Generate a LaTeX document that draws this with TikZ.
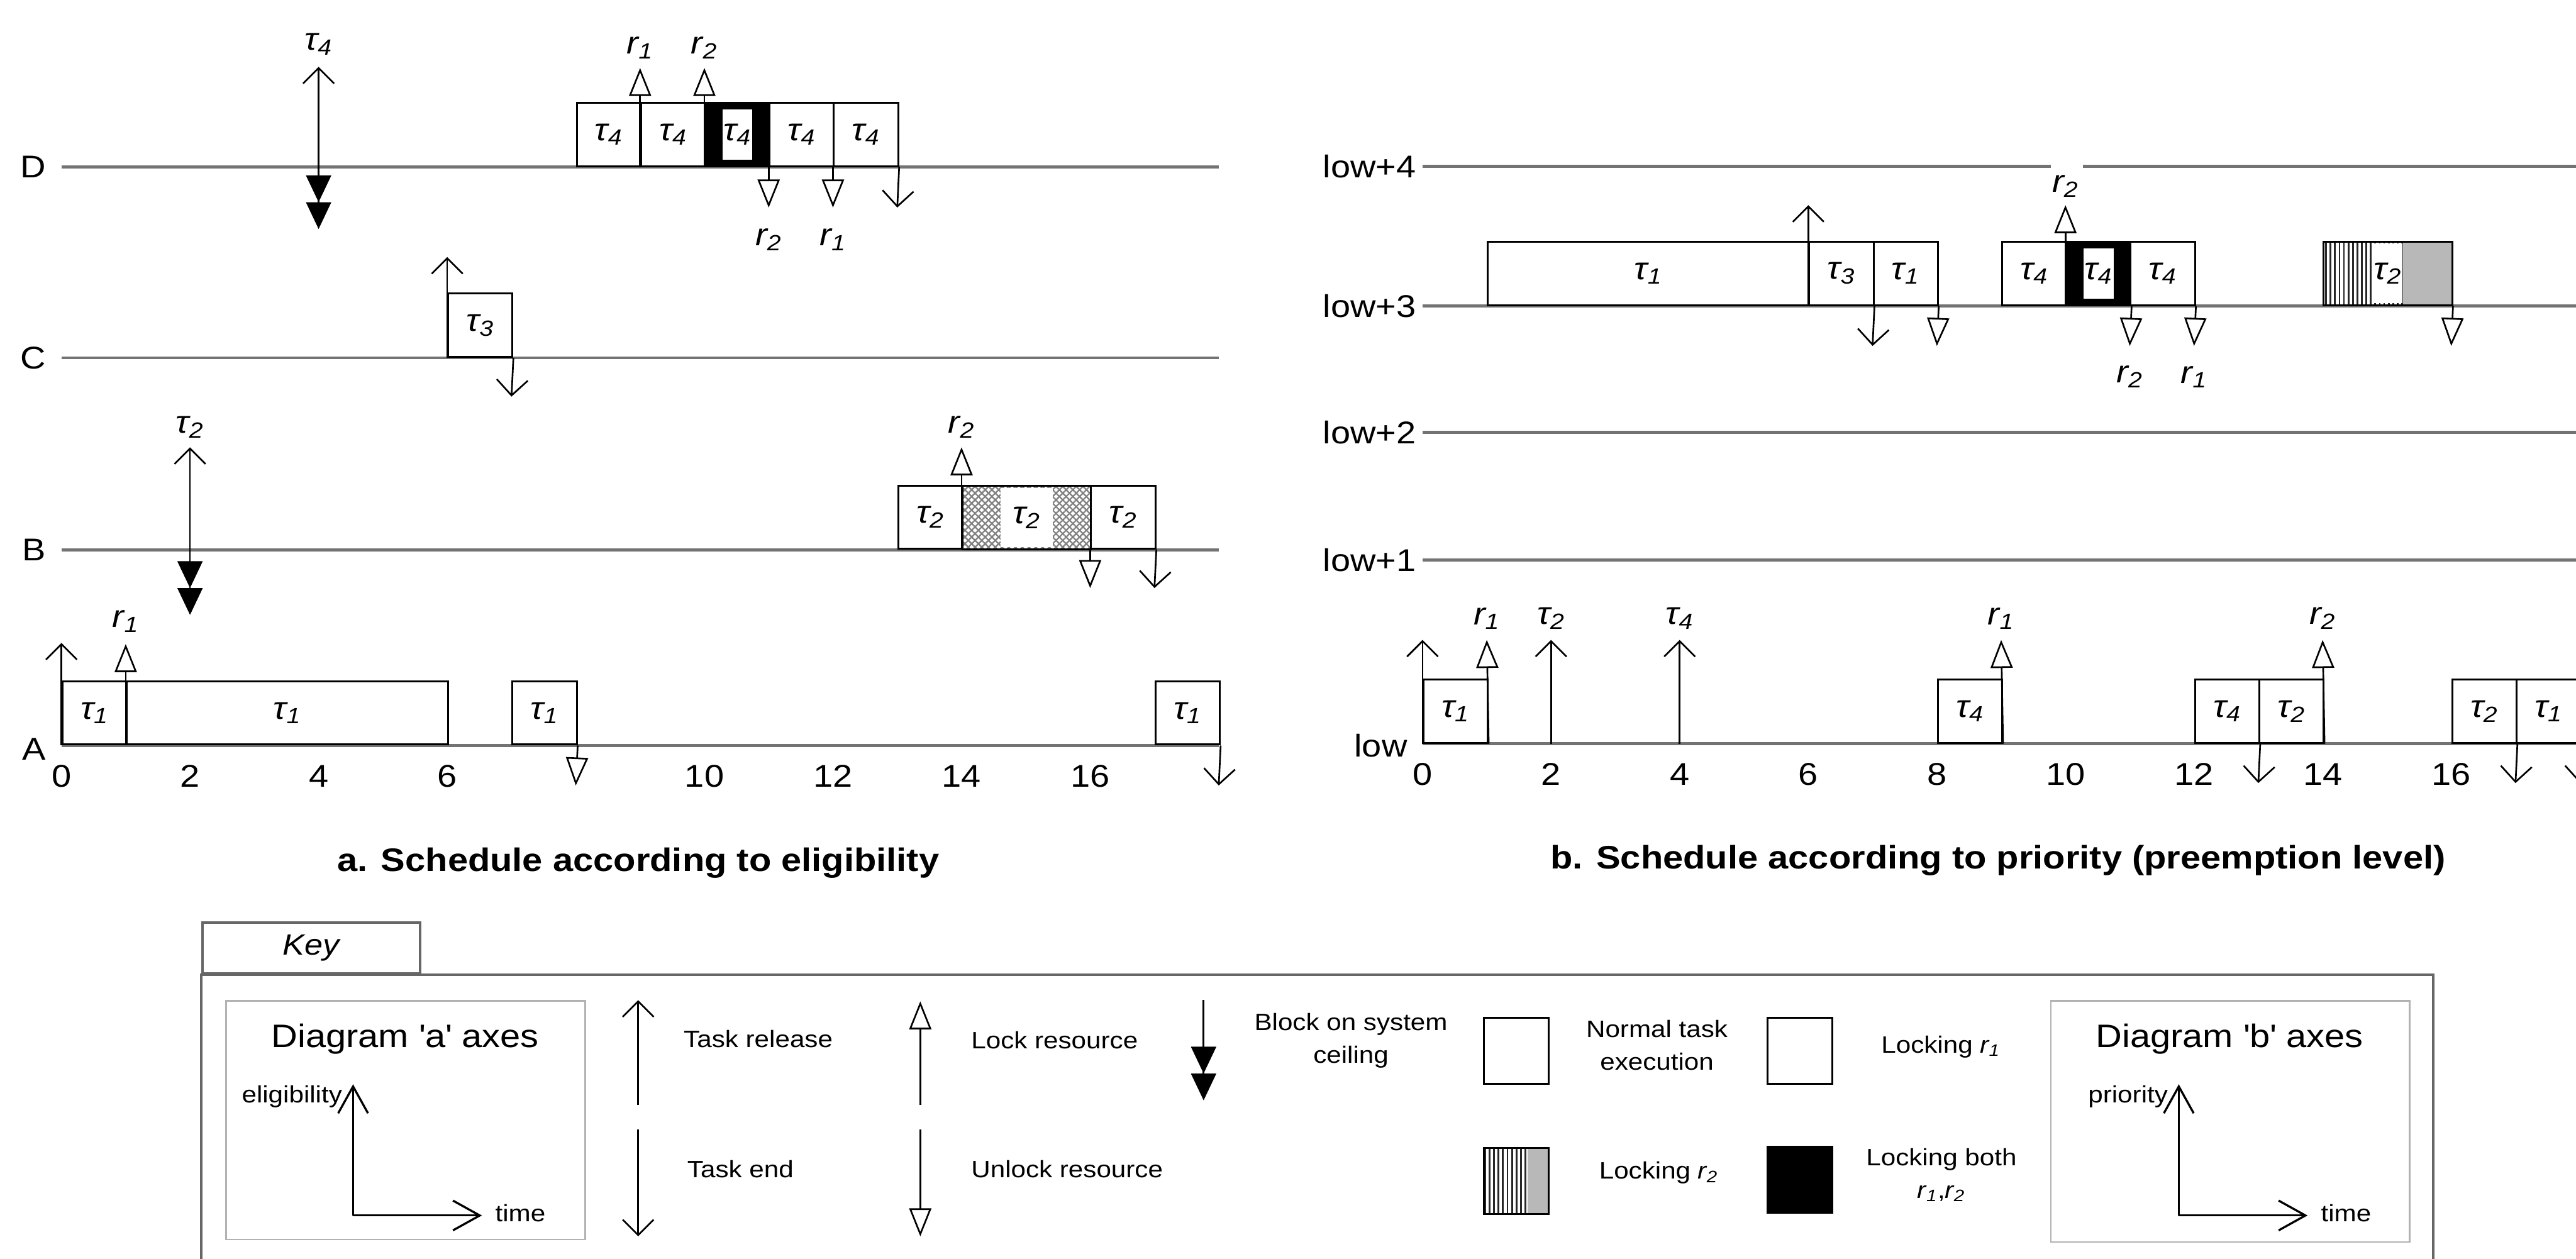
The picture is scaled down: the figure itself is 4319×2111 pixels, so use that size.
\documentclass[tikz,border=0pt]{standalone}
\usepackage{fontspec}
\setmainfont{Liberation Sans}[FakeStretch=1.12]
\usetikzlibrary{arrows.meta,patterns.meta}
\newcommand{\lanefont}{\fontsize{15}{18}\selectfont}
\newcommand{\tsk}[1]{\textit{τ\textsubscript{#1}}}
\newcommand{\rsc}[1]{\textit{r\textsubscript{#1}}}

\begin{document}
\begin{tikzpicture}[
  x=0.1mm, y=-0.1mm,
  lane/.style={draw=black!55, line width=1.3pt},
  llbl/.style={font=\lanefont, anchor=east, inner sep=2.5mm},
  tick/.style={font=\lanefont, inner sep=0pt},
  lbl/.style={font=\lanefont, inner sep=0pt},
  job/.style={draw, line width=0.9pt, fill=white, anchor=south west,
              minimum width=10.78mm, minimum height=10.6mm, inner sep=0pt,
              font=\lanefont},
  jobw/.style={job, minimum width=#1*10.78mm},
  both/.style={job, fill=black},
  bothin/.style={fill=white, minimum width=5mm, minimum height=8.4mm,
                 inner sep=0pt, font=\lanefont},
  rdot/.style={jobw=2, pattern={Hatch[angle=45,distance=0.8mm,line width=0.25mm]},
               pattern color=black!50},
  rtwo/.style={job, pattern={Lines[angle=90,distance=0.75mm,line width=0.3mm]},
               pattern color=black!85,
               path picture={\fill[black!28]
                 ([xshift=-#1]path picture bounding box.south east) rectangle
                 (path picture bounding box.north east);}},
  wlbl/.style={fill=white, minimum height=10mm, inner sep=0pt, font=\lanefont},
  rel/.style={-{Straight Barb[length=2.6mm,width=5.2mm]}, line width=0.8pt},
  lck/.style={-{Triangle[open,length=4.7mm,width=3.7mm]}, line width=0.8pt},
  blk/.style={-{Triangle[length=4.5mm,width=4.2mm,sep=0pt] Triangle[length=4.5mm,width=4.2mm]}, line width=0.8pt},
  capt/.style={font=\bfseries\fontsize{15.5}{18}\selectfont},
  ktxt/.style={font=\fontsize{11.3}{15.6}\selectfont, align=center},
  kjob/.style={anchor=center, minimum width=10.9mm, minimum height=11.1mm},
  kbox/.style={draw=black!60, line width=1.2pt},
  kin/.style={draw=black!30, line width=0.7pt},
  axarr/.style={-{Straight Barb[length=4.5mm,width=5mm]}, line width=1pt}]

\path[use as bounding box, fill=white] (0,0) rectangle (4319,2111);
\clip (0,0) rectangle (4319,2111);

\begin{scope}[shift={(103,0)}, x=10.78mm]
\node[llbl] (lD) at (0,280)  {D};
\node[llbl] (lC) at (0,600)  {C};
\node[llbl] (lB) at (0,922)  {B};
\node[llbl] (lA) at (0,1256) {A};
\coordinate (sD) at (0,280);
\coordinate (eD) at (18,280);
\coordinate (sC) at (0,600);
\coordinate (eC) at (18,600);
\coordinate (sB) at (0,922);
\coordinate (eB) at (18,922);
\coordinate (sA) at (0,1250);
\coordinate (eA) at (18,1250);
\draw[lane] (sD) -- (eD);
\draw[lane] (sC) -- (eC);
\draw[lane] (sB) -- (eB);
\draw[lane] (sA) -- (eA);

\node[job]    (d8)   at (8,280)  {\tsk4};
\node[job]    (d9)   at (9,280)  {\tsk4};
\node[both]   (d10)  at (10,280) {};
\node[bothin] (d10i) at (d10)    {\tsk4};
\node[job]    (d11)  at (11,280) {\tsk4};
\node[job]    (d12)  at (12,280) {\tsk4};
\node[job]    (c6)   at (6,600)  {\tsk3};
\node[job]    (b13)  at (13,922) {\tsk2};
\node[rdot]   (b14)  at (14,922) {};
\node[wlbl, minimum width=8.7mm] (b14i) at (b14) {\tsk2};
\node[job]    (b16)  at (16,922) {\tsk2};
\node[job]    (a0)   at (0,1250) {\tsk1};
\node[jobw=5] (a1)   at (1,1250) {\tsk1};
\node[job]    (a7)   at (7,1250) {\tsk1};
\node[job]    (a17)  at (17,1250) {\tsk1};

\coordinate (d4a)  at (4,280);
\coordinate (d4b)  at (4,112);
\coordinate (d4c)  at (4,384);
\coordinate (d9b)  at (9,114);
\coordinate (d10b) at (10,114);
\coordinate (d11b) at (11,348);
\coordinate (d12b) at (12,348);
\coordinate (d13b) at (13,348);
\coordinate (c6b)  at (6,431);
\coordinate (c7b)  at (7,665);
\coordinate (b2a)  at (2,922);
\coordinate (b2b)  at (2,750);
\coordinate (b2c)  at (2,1031);
\coordinate (b14b) at (14,750);
\coordinate (b16b) at (16,986);
\coordinate (b17b) at (17,986);
\coordinate (a0b)  at (0,1078);
\coordinate (a1b)  at (1,1080);
\coordinate (a8b)  at (8,1317);
\coordinate (a18b) at (18,1317);

\draw[rel] (d4a) -- (d4b);
\draw[blk] (d4a) -- (d4c);
\draw[lck] (d9.south west)  -- (d9b);
\draw[lck] (d10.south west) -- (d10b);
\draw[lck] (d11.south west) -- (d11b);
\draw[lck] (d12.south west) -- (d12b);
\draw[rel] (d12.south east) -- (d13b);
\draw[rel] (c6.south west)  -- (c6b);
\draw[rel] (c6.south east)  -- (c7b);
\draw[rel] (b2a) -- (b2b);
\draw[blk] (b2a) -- (b2c);
\draw[lck] (b14.south west) -- (b14b);
\draw[lck] (b16.south west) -- (b16b);
\draw[rel] (b16.south east) -- (b17b);
\draw[rel] (a0.south west)  -- (a0b);
\draw[lck] (a1.south west)  -- (a1b);
\draw[lck] (a7.south east)  -- (a8b);
\draw[rel] (a17.south east) -- (a18b);

\node[lbl] (d4l)  at (4,74)   {\tsk4};
\node[lbl] (d9l)  at (9,80)   {\rsc1};
\node[lbl] (d10l) at (10,80)  {\rsc2};
\node[lbl] (d11l) at (11,402) {\rsc2};
\node[lbl] (d12l) at (12,402) {\rsc1};
\node[lbl] (b2l)  at (2,716)  {\tsk2};
\node[lbl] (b14l) at (14,716) {\rsc2};
\node[lbl] (a1l)  at (1,1042) {\rsc1};

\node[tick] (ta0)  at (0,1301)  {0};
\node[tick] (ta2)  at (2,1301)  {2};
\node[tick] (ta4)  at (4,1301)  {4};
\node[tick] (ta6)  at (6,1301)  {6};
\node[tick] (ta10) at (10,1301) {10};
\node[tick] (ta12) at (12,1301) {12};
\node[tick] (ta14) at (14,1301) {14};
\node[tick] (ta16) at (16,1301) {16};
\end{scope}

\node[capt] (capa) at (1070,1447) {a. Schedule according to eligibility};

\begin{scope}[shift={(2385,0)}, x=10.78mm]
\node[llbl, inner sep=1mm] (lp4) at (0,279)  {low+4};
\node[llbl, inner sep=1mm] (lp3) at (0,513)  {low+3};
\node[llbl, inner sep=1mm] (lp2) at (0,725)  {low+2};
\node[llbl, inner sep=1mm] (lp1) at (0,939)  {low+1};
\node[llbl]                (lp0) at (0,1250) {low};
\coordinate (p4s) at (0,279);
\coordinate (p4g) at (9.77,279);
\coordinate (p4h) at (10.27,279);
\coordinate (p4e) at (18,279);
\coordinate (p3s) at (0,513);
\coordinate (p3e) at (18,513);
\coordinate (p2s) at (0,725);
\coordinate (p2e) at (18,725);
\coordinate (p1s) at (0,939);
\coordinate (p1e) at (18,939);
\coordinate (p0s) at (0,1247);
\coordinate (p0e) at (18,1247);
\draw[lane] (p4s) -- (p4g) (p4h) -- (p4e);
\draw[lane] (p3s) -- (p3e);
\draw[lane] (p2s) -- (p2e);
\draw[lane] (p1s) -- (p1e);
\draw[lane] (p0s) -- (p0e);

\node[jobw=5] (q1)   at (1,513)  {\tsk1};
\node[job]    (q6)   at (6,513)  {\tsk3};
\node[job]    (q7)   at (7,513)  {\tsk1};
\node[job]    (q9)   at (9,513)  {\tsk4};
\node[both]   (q10)  at (10,513) {};
\node[bothin] (q10i) at (q10)    {\tsk4};
\node[job]    (q11)  at (11,513) {\tsk4};
\node[rtwo=8.2mm, minimum width=21.56mm] (q14) at (14,513) {};
\node[wlbl, minimum width=4.8mm] (q14i) at (q14) {\tsk2};
\node[job]    (w0)   at (0,1247)  {\tsk1};
\node[job]    (w8)   at (8,1247)  {\tsk4};
\node[job]    (w12)  at (12,1247) {\tsk4};
\node[job]    (w13)  at (13,1247) {\tsk2};
\node[job]    (w16)  at (16,1247) {\tsk2};
\node[job]    (w17)  at (17,1247) {\tsk1};

\coordinate (q6b)  at (6,344);
\coordinate (q7b)  at (7,580);
\coordinate (q8b)  at (8,580);
\coordinate (q10b) at (10,344);
\coordinate (q11b) at (11,580);
\coordinate (q12b) at (12,580);
\coordinate (q16b) at (16,580);
\coordinate (w0b)  at (0,1073);
\coordinate (w1b)  at (1,1073);
\coordinate (w2a)  at (2,1247);
\coordinate (w2b)  at (2,1073);
\coordinate (w4a)  at (4,1247);
\coordinate (w4b)  at (4,1073);
\coordinate (w9b)  at (9,1073);
\coordinate (w13b) at (13,1313);
\coordinate (w14b) at (14,1073);
\coordinate (w17b) at (17,1313);
\coordinate (w18b) at (18,1313);

\draw[rel] (q6.south west)  -- (q6b);
\draw[rel] (q6.south east)  -- (q7b);
\draw[lck] (q7.south east)  -- (q8b);
\draw[lck] (q10.south west) -- (q10b);
\draw[lck] (q10.south east) -- (q11b);
\draw[lck] (q11.south east) -- (q12b);
\draw[lck] (q14.south east) -- (q16b);
\draw[rel] (w0.south west)  -- (w0b);
\draw[lck] (w0.south east)  -- (w1b);
\draw[rel] (w2a) -- (w2b);
\draw[rel] (w4a) -- (w4b);
\draw[lck] (w8.south east)  -- (w9b);
\draw[rel] (w12.south east) -- (w13b);
\draw[lck] (w13.south east) -- (w14b);
\draw[rel] (w16.south east) -- (w17b);
\draw[rel] (w17.south east) -- (w18b);

\node[lbl] (q10l) at (10,312) {\rsc2};
\node[lbl] (q11l) at (11,632) {\rsc2};
\node[lbl] (q12l) at (12,632) {\rsc1};
\node[lbl] (w1l)  at (1,1037)  {\rsc1};
\node[lbl] (w2l)  at (2,1037)  {\tsk2};
\node[lbl] (w4l)  at (4,1037)  {\tsk4};
\node[lbl] (w9l)  at (9,1037)  {\rsc1};
\node[lbl] (w14l) at (14,1037) {\rsc2};

\node[tick] (tb0)  at (0,1298)  {0};
\node[tick] (tb2)  at (2,1298)  {2};
\node[tick] (tb4)  at (4,1298)  {4};
\node[tick] (tb6)  at (6,1298)  {6};
\node[tick] (tb8)  at (8,1298)  {8};
\node[tick] (tb10) at (10,1298) {10};
\node[tick] (tb12) at (12,1298) {12};
\node[tick] (tb14) at (14,1298) {14};
\node[tick] (tb16) at (16,1298) {16};
\end{scope}

\node[capt] (capb) at (3350,1443) {b. Schedule according to priority (preemption level)};

\node[kbox, anchor=south west, minimum width=36.5mm, minimum height=8.5mm,
      font=\itshape\fontsize{14}{16}\selectfont] (ktab) at (337,1634) {Key};
\coordinate (kbr) at (4080,2140);
\draw[kbox] (ktab.south west) rectangle (kbr);

\node[kin, anchor=north west, minimum width=60.2mm, minimum height=40mm] (kfa) at (378,1677) {};
\node[font=\fontsize{15.5}{18}\selectfont] (kda) at (679,1742) {Diagram \textquotesingle a\textquotesingle\ axes};
\coordinate (kao) at (592,2038);
\coordinate (kay) at (592,1818);
\coordinate (kax) at (808,2038);
\draw[axarr] (kao) -- (kay);
\draw[axarr] (kao) -- (kax);
\node[ktxt, anchor=east] (kael) at (586,1839) {eligibility};
\node[ktxt, anchor=west] (katm) at (818,2034) {time};

\coordinate (kr0) at (1070,1853);
\coordinate (kr1) at (1070,1677);
\coordinate (ke0) at (1070,1894);
\coordinate (ke1) at (1070,2073);
\coordinate (kl0) at (1543,1853);
\coordinate (kl1) at (1543,1679);
\coordinate (ku0) at (1543,1894);
\coordinate (ku1) at (1543,2073);
\coordinate (kb0) at (2018,1677);
\coordinate (kb1) at (2018,1845);
\draw[rel] (kr0) -- (kr1);
\draw[rel] (ke0) -- (ke1);
\draw[lck] (kl0) -- (kl1);
\draw[lck] (ku0) -- (ku1);
\draw[blk] (kb0) -- (kb1);
\node[ktxt, anchor=west] (krt) at (1134,1742) {Task release};
\node[ktxt, anchor=west] (ket) at (1140,1960) {Task end};
\node[ktxt, anchor=west] (klt) at (1616,1744) {Lock resource};
\node[ktxt, anchor=west] (kut) at (1616,1960) {Unlock resource};
\node[ktxt] (kbt) at (2265,1745) {Block on system\\ceiling};

\node[job, kjob]        (kn)  at (2542,1762) {};
\node[job, kjob]        (kq1) at (3018,1762) {};
\node[rtwo=3.5mm, kjob] (kq2) at (2542,1980) {};
\node[both, kjob]       (kq3) at (3018,1978) {};
\node[ktxt] (knt)  at (2778,1752) {Normal task\\execution};
\node[ktxt] (kq1t) at (3254,1755) {Locking \rsc1};
\node[ktxt] (kq2t) at (2781,1966) {Locking \rsc2};
\node[ktxt] (kq3t) at (3255,1970) {Locking both\\\rsc1,\rsc2};

\node[kin, anchor=north west, minimum width=60.2mm, minimum height=40.4mm] (kfb) at (3437,1677) {};
\node[font=\fontsize{15.5}{18}\selectfont] (kdb) at (3738,1742) {Diagram \textquotesingle b\textquotesingle\ axes};
\coordinate (kbo) at (3653,2038);
\coordinate (kby) at (3653,1818);
\coordinate (kbx) at (3869,2038);
\draw[axarr] (kbo) -- (kby);
\draw[axarr] (kbo) -- (kbx);
\node[ktxt, anchor=east] (kbpr) at (3647,1839) {priority};
\node[ktxt, anchor=west] (kbtm) at (3879,2034) {time};
\end{tikzpicture}
\end{document}
